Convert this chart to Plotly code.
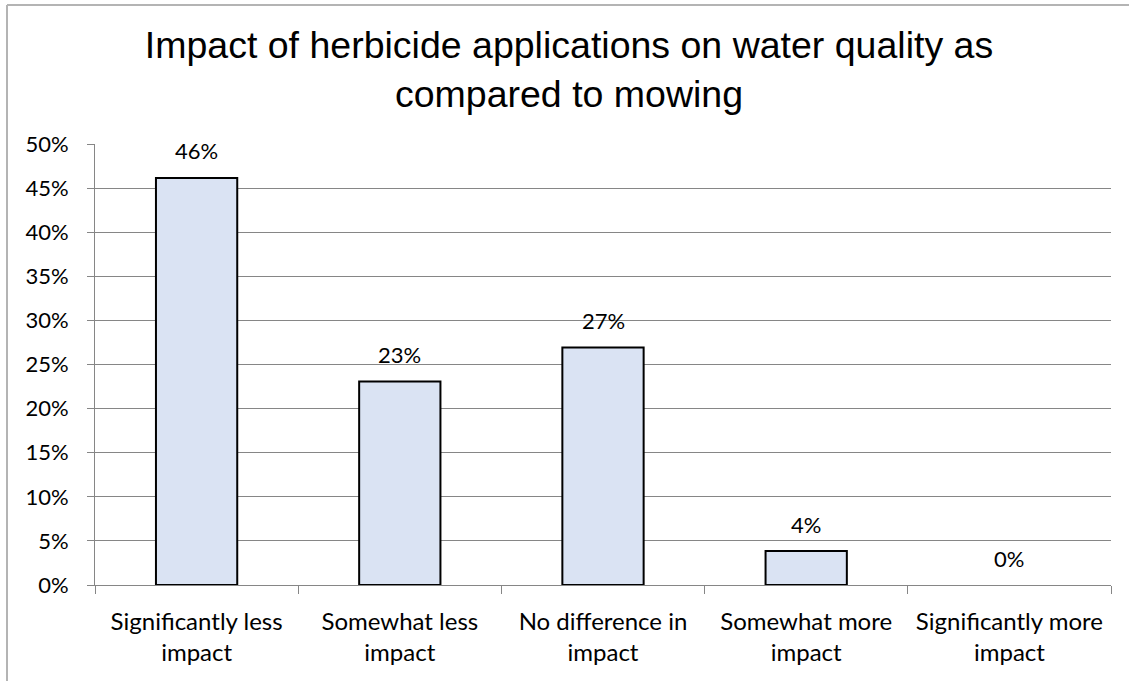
import plotly.graph_objects as go

categories = ["Significantly less<br>impact", "Somewhat less<br>impact", "No difference in<br>impact",
              "Somewhat more<br>impact", "Significantly more<br>impact"]
values = [12/26, 6/26, 7/26, 1/26, 0.0]
value_labels = ["46%", "23%", "27%", "4%", "0%"]

W, H = 1129, 681
ML, MR, MT, MB = 95, 18, 144, 96

fig = go.Figure(go.Bar(
    x=categories, y=values,
    marker=dict(color="#DAE3F3",
                line=dict(color="#000000", width=[2 if v > 0 else 0 for v in values])),
    hoverinfo="skip",
))

for c, v, t in zip(categories, values, value_labels):
    fig.add_annotation(x=c, y=v, text=t, showarrow=False, yanchor="middle", yshift=27,
                       font=dict(family="Lato", size=22, color="#000000"))

pw, ph = W - ML - MR, H - MT - MB
def px_x(p): return (p - ML) / pw
def px_y(p): return (H - MB - p) / ph
border = "#B4B4B4"
fig.add_shape(type="line", xref="paper", yref="paper", x0=px_x(7), x1=px_x(W + 5), y0=px_y(5), y1=px_y(5),
              line=dict(color=border, width=2))
fig.add_shape(type="line", xref="paper", yref="paper", x0=px_x(7), x1=px_x(7), y0=px_y(5), y1=px_y(H + 5),
              line=dict(color=border, width=2))

fig.update_layout(
    width=W, height=H,
    margin=dict(l=ML, r=MR, t=MT, b=MB),
    paper_bgcolor="white", plot_bgcolor="white",
    bargap=0.6,
    showlegend=False,
    title=dict(text="Impact of herbicide applications on water quality as<br>compared to mowing",
               x=569 / W, xref="container", xanchor="center",
               y=1 - 58 / H, yref="container", yanchor="middle",
               font=dict(family="Liberation Sans, Arial", size=37.5, color="#000000")),
    xaxis=dict(showline=True, linecolor="#868686", linewidth=1, ticks="outside", tickson="boundaries",
               ticklen=8, tickcolor="#868686", showgrid=False, ticklabelstandoff=15,
               tickfont=dict(family="Lato", size=24, color="#000000")),
    yaxis=dict(range=[0, 0.5], dtick=0.05, tickformat=".0%", showline=True, linecolor="#868686",
               ticks="outside", ticklen=7, tickcolor="#868686", gridcolor="#868686", gridwidth=1,
               zeroline=False, ticklabelstandoff=14,
               tickfont=dict(family="Lato", size=22, color="#000000")),
)

fig.write_html("out.html", config={"displayModeBar": False},
               post_script="document.body.style.margin='0';")
